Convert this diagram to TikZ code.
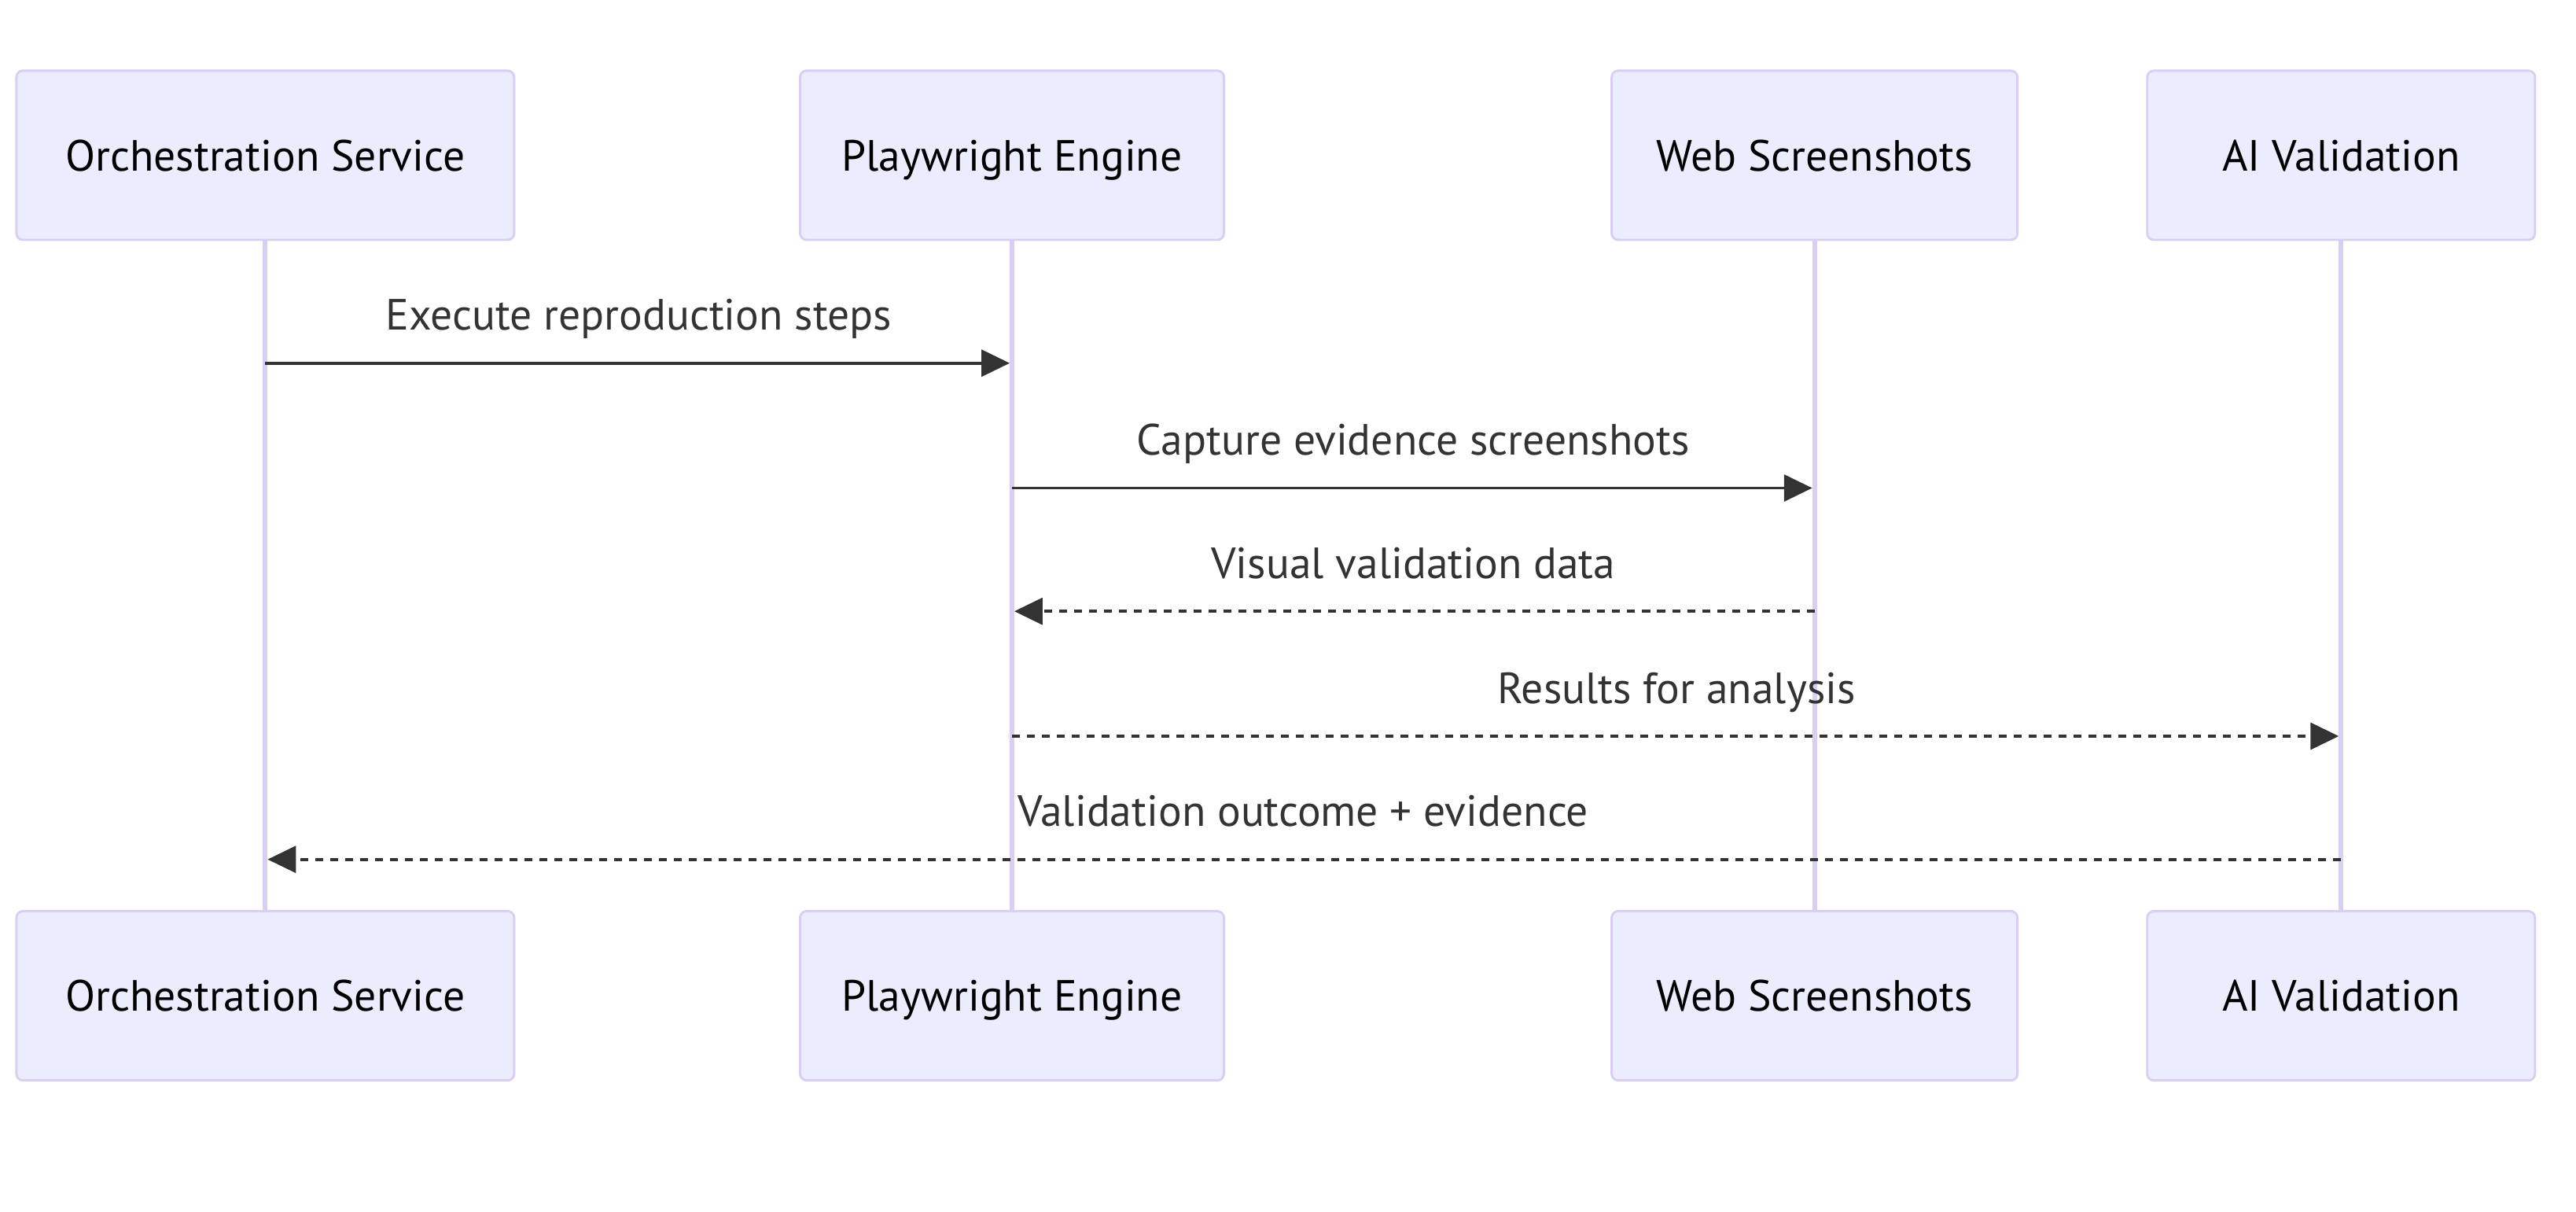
\documentclass[tikz,border=0pt]{standalone}
\usepackage{fontspec}
\setmainfont{PT Sans}
\usetikzlibrary{arrows.meta}
\definecolor{actorfill}{HTML}{ECECFF}
\definecolor{actorline}{HTML}{D9CFF2}
\definecolor{msgcolor}{HTML}{333333}
\tikzstyle{actor} = [draw=actorline, fill=actorfill, line width=0.7pt, rounded corners=2pt, minimum height=51.5pt, inner sep=0pt, text height=9.5pt, text depth=0pt, font=\fontsize{13.3}{16}\selectfont]
\tikzstyle{lifeline} = [draw=actorline, line width=1.4pt]
\tikzstyle{call} = [-{Triangle[length=8.6pt, width=8.1pt]}, draw=msgcolor, line width=0.95pt, shorten >=0.7pt]
\tikzstyle{reply} = [call, dash pattern=on 2.4pt off 2.15pt]
\tikzstyle{msgtext} = [text=msgcolor, anchor=base, yshift=10pt, font=\fontsize{13.3}{16}\selectfont]

\begin{document}
\begin{tikzpicture}[x=0.5pt, y=-0.5pt]
    \useasboundingbox (0, 0) rectangle (1568, 737.1);

    \foreach \i/\x/\w/\name in {1/161.5/303/Orchestration Service, 2/616/258/Playwright Engine, 3/1104.5/247/Web Screenshots, 4/1425/236/AI Validation} {
        \node (top \i) [actor, minimum width=\w*0.5pt] at (\x, 94.5) {\name};
        \node (bottom \i) [actor, minimum width=\w*0.5pt] at (\x, 606) {\name};
        \draw [lifeline] (top \i) -- (bottom \i);
    }

    % solid calls
    \foreach \a/\b/\y/\text in {1/2/221/Execute reproduction steps, 2/3/297/Capture evidence screenshots} {
        \draw [call] (top \a |- 0, \y) -- node [msgtext] {\text} (top \b |- 0, \y);
    }

    % dashed replies
    \foreach \a/\b/\y/\text in {3/2/372/Visual validation data, 2/4/448/Results for analysis, 4/1/523/Validation outcome + evidence} {
        \draw [reply] (top \a |- 0, \y) -- node [msgtext] {\text} (top \b |- 0, \y);
    }
\end{tikzpicture}
\end{document}
